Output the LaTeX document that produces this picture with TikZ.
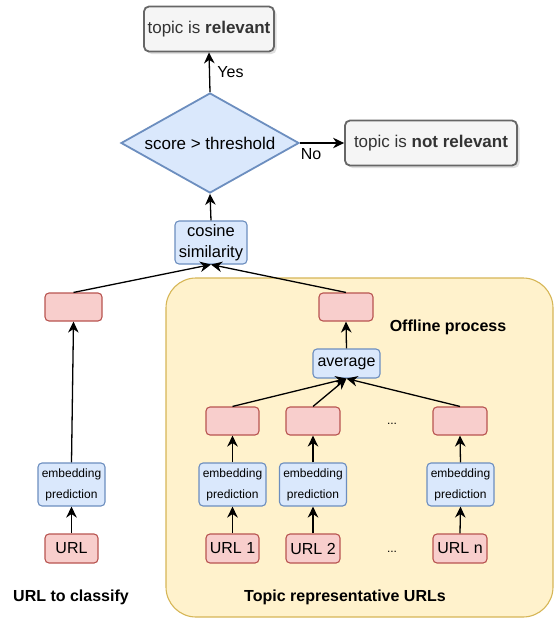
\documentclass[tikz,border=0pt]{standalone}
\usepackage{fontspec}
\setmainfont{Liberation Sans}
\usetikzlibrary{shapes.geometric,arrows.meta,shadows}
\definecolor{redfill}{HTML}{F8CECC}
\definecolor{redline}{HTML}{B85450}
\definecolor{bluefill}{HTML}{DAE8FC}
\definecolor{blueline}{HTML}{6C8EBF}
\definecolor{yelfill}{HTML}{FFF2CC}
\definecolor{yelline}{HTML}{D6B656}
\definecolor{grayfill}{HTML}{F5F5F5}
\definecolor{grayline}{HTML}{666666}
\definecolor{graytext}{HTML}{333333}
\tikzset{
  redbox/.style={draw=redline,fill=redfill,rounded corners=4pt,line width=1.1pt,
    minimum width=54pt,minimum height=28pt,inner sep=0pt,font=\fontsize{16}{18}\selectfont},
  bluebox/.style={draw=blueline,fill=bluefill,rounded corners=4pt,line width=1.1pt,
    inner sep=0pt,align=center},
  graybox/.style={draw=grayline,fill=grayfill,text=graytext,rounded corners=5pt,line width=1.8pt,
    minimum height=45pt,inner sep=0pt,font=\fontsize{17}{20}\selectfont,
    drop shadow={shadow xshift=2.5pt,shadow yshift=-2.5pt,opacity=.25}},
  embbox/.style={bluebox,minimum width=67pt,minimum height=43pt,font=\fontsize{12}{21}\selectfont},
  title/.style={font=\bfseries\fontsize{16}{18}\selectfont},
  >={Stealth[length=11pt,width=10.5pt,inset=3.5pt]}
}
\begin{document}
\begin{tikzpicture}[x=1pt,y=-1pt]
\useasboundingbox (0,0) rectangle (554,619);
\draw[yelline,fill=yelfill,line width=1.1pt,rounded corners=30pt] (166,278) rectangle (553,617);

\node[graybox,minimum width=130pt] (rel) at (209,29) {topic is \textbf{relevant}};
\node[diamond,draw=blueline,fill=bluefill,line width=1.8pt,minimum width=178pt,minimum height=100pt,
  aspect=1.78,inner sep=0pt,font=\fontsize{17}{20}\selectfont] (dec) at (210,143) {score > threshold};
\node[graybox,minimum width=172pt] (notrel) at (431,143) {topic is \textbf{not relevant}};
\node[bluebox,minimum width=72pt,minimum height=43pt,font=\fontsize{16.5}{21.5}\selectfont] (cos) at (211,242.5) {cosine\\similarity};

\node[redbox,minimum width=57pt] (vecL) at (73.5,307) {};
\node[redbox] (vecT) at (346,307) {};
\node[bluebox,minimum width=67pt,minimum height=29pt,font=\fontsize{16}{18}\selectfont] (avg) at (346.5,363.5) {average};

\node[redbox,minimum width=53pt] (vec1) at (232.5,421) {};
\node[redbox] (vec2) at (313,421) {};
\node[redbox] (vecn) at (460,421) {};
\node[font=\fontsize{12}{14}\selectfont] (dotsA) at (392,424) {...};

\node[embbox] (embL) at (71.5,484.5) {embedding\\prediction};
\node[embbox] (emb1) at (232.5,484.5) {embedding\\prediction};
\node[embbox] (emb2) at (313,484.5) {embedding\\prediction};
\node[embbox] (embn) at (460.5,484.5) {embedding\\prediction};

\node[redbox,minimum width=53pt,minimum height=29pt] (urlL) at (71.5,548.5) {URL};
\node[redbox,minimum width=53pt,minimum height=29pt] (url1) at (232.5,548.5) {URL 1};
\node[redbox,minimum height=29pt] (url2) at (313,548.5) {URL 2};
\node[redbox,minimum height=29pt] (urln) at (460,548.5) {URL n};
\node[font=\fontsize{12}{14}\selectfont] (dotsB) at (392,552) {...};

\node[title] (lblL) at (71,597) {URL to classify};
\node[title] (lblR) at (345,597) {Topic representative URLs};
\node[title] (lblO) at (448,327) {Offline process};

% decision
\draw[->,line width=1.3pt] (dec.north) -- (rel.south) node[midway,right,font=\fontsize{16}{18}\selectfont,xshift=4pt]{Yes};
\draw[->,line width=1.3pt] (dec.east) -- (notrel.west);
\node[font=\fontsize{16}{18}\selectfont] (no) at (311,154) {No};
\draw[->,line width=1.3pt] (cos.north) -- (dec.south);
\draw[->,line width=1.3pt] (vecL.north) -- (cos.south);
\draw[->,line width=1.3pt] (vecT.north) -- (cos.south);

% offline part
\draw[->,line width=1.3pt] (avg.north) -- (vecT.south);
\draw[->,line width=1.3pt] (vec1.north) -- (avg.south);
\draw[->,line width=1.3pt] (vec2.north) -- (avg.south);
\draw[->,line width=1.3pt] (vecn.north) -- (avg.south);
\draw[->,line width=1.3pt] (embL.north) -- (vecL.south);
\draw[->,line width=1.3pt] (emb1.north) -- (vec1.south);
\draw[->,line width=1.3pt] (emb2.north) -- (vec2.south);
\draw[->,line width=1.3pt] (embn.north) -- (vecn.south);
\draw[->,line width=1.3pt] (urlL.north) -- (embL.south);
\draw[->,line width=1.3pt] (url1.north) -- (emb1.south);
\draw[->,line width=1.3pt] (url2.north) -- (emb2.south);
\draw[->,line width=1.3pt] (urln.north) -- (embn.south);

\end{tikzpicture}
\end{document}
